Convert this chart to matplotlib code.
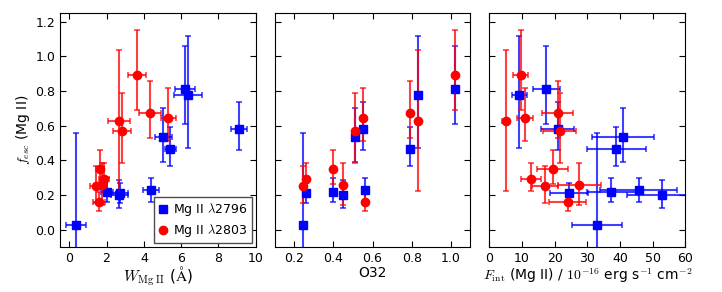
import matplotlib
matplotlib.use('Agg')
import matplotlib.pyplot as plt

plt.rcParams['font.family'] = ['DejaVu Sans']
plt.rcParams['mathtext.fontset'] = 'cm'
plt.rcParams['font.size'] = 9
plt.rcParams['xtick.direction'] = 'in'
plt.rcParams['ytick.direction'] = 'in'
plt.rcParams['xtick.top'] = True
plt.rcParams['ytick.right'] = True
plt.rcParams['xtick.major.size'] = 4
plt.rcParams['ytick.major.size'] = 4

# Mg II 2796 (blue squares)
b_fesc = [0.03, 0.21, 0.22, 0.20, 0.535, 0.58, 0.23, 0.465, 0.78, 0.815]
b_lo = [0.03 + 0.14, 0.21 - 0.155, 0.22 - 0.16, 0.20 - 0.125, 0.535 - 0.39,
        0.58 - 0.46, 0.23 - 0.16, 0.465 - 0.367, 0.78 - 0.47, 0.815 - 0.61]
b_hi = [0.56 - 0.03, 0.27 - 0.21, 0.297 - 0.22, 0.287 - 0.20, 0.70 - 0.535,
        0.735 - 0.58, 0.30 - 0.23, 0.59 - 0.465, 1.12 - 0.78, 1.06 - 0.815]
b_W = [0.37, 2.7, 2.02, 2.68, 5.05, 9.1, 4.39, 5.43, 6.35, 6.2]
b_Werr = [0.53, 0.45, 0.3, 0.45, 0.45, 0.45, 0.43, 0.3, 0.75, 0.55]
b_O32 = [0.245, 0.26, 0.40, 0.45, 0.51, 0.55, 0.56, 0.79, 0.83, 1.02]
b_F = [32.9, 24.4, 37.3, 52.9, 40.9, 20.9, 45.7, 38.9, 9.2, 17.4]
b_Ferr = [7.6, 5.7, 7.5, 10.8, 9.5, 5.0, 11.8, 9.1, 2.2, 4.1]

# Mg II 2803 (red circles)
r_fesc = [0.255, 0.29, 0.35, 0.26, 0.57, 0.645, 0.16, 0.675, 0.63, 0.895]
r_lo = [0.255 - 0.155, 0.29 - 0.225, 0.35 - 0.264, 0.26 - 0.14, 0.57 - 0.385,
        0.645 - 0.51, 0.16 - 0.11, 0.675 - 0.53, 0.63 - 0.225, 0.895 - 0.69]
r_hi = [0.365 - 0.255, 0.385 - 0.29, 0.46 - 0.35, 0.385 - 0.26, 0.79 - 0.57,
        0.82 - 0.645, 0.22 - 0.16, 0.86 - 0.675, 1.04 - 0.63, 1.15 - 0.895]
r_W = [1.44, 1.87, 1.66, 1.75, 2.85, 5.3, 1.6, 4.33, 2.68, 3.63]
r_Werr = [0.33, 0.27, 0.2, 0.25, 0.48, 0.4, 0.3, 0.6, 0.6, 0.5]
r_O32 = [0.245, 0.26, 0.40, 0.45, 0.51, 0.55, 0.56, 0.79, 0.83, 1.02]
r_F = [17.1, 12.7, 19.4, 27.6, 21.5, 10.9, 24.0, 20.9, 5.0, 9.6]
r_Ferr = [4.0, 3.0, 4.7, 6.6, 5.0, 2.5, 5.6, 4.8, 1.0, 2.3]

blue_e = (0.0, 0.0, 1.0, 0.75)
red_e = (1.0, 0.0, 0.0, 0.75)


def draw(ax, bx, bxerr, rx, rxerr):
    eb = ax.errorbar(bx, b_fesc, yerr=[b_lo, b_hi], xerr=bxerr, fmt='s', color='b',
                     ecolor=blue_e, mec='b', ms=6, elinewidth=1.5, capsize=2,
                     capthick=1.2)
    er = ax.errorbar(rx, r_fesc, yerr=[r_lo, r_hi], xerr=rxerr, fmt='o', color='r',
                     ecolor=red_e, mec='r', ms=6, elinewidth=1.5, capsize=2,
                     capthick=1.2)
    ax.set_ylim(-0.1, 1.25)
    ax.set_yticks([0.0, 0.2, 0.4, 0.6, 0.8, 1.0, 1.2])
    return eb, er


fig, axes = plt.subplots(1, 3, figsize=(7.22, 2.92), dpi=100, sharey=True)
fig.subplots_adjust(left=0.083, right=0.949, top=0.955, bottom=0.154, wspace=0.097)

ax1, ax2, ax3 = axes
eb, er = draw(ax1, b_W, b_Werr, r_W, r_Werr)
ax1.set_xlim(-0.5, 10)
ax1.set_xticks(range(0, 11, 2))
ax1.set_xlabel('$W_{\\rm Mg\\ II}$ ($\\rm\\AA$)', fontsize=11, labelpad=0)
ax1.set_ylabel('$f_{esc}$ (Mg II)', fontsize=10, labelpad=2)
leg = ax1.legend([eb[0], er[0]], ['Mg II $\\lambda$2796', 'Mg II $\\lambda$2803'],
                 loc='lower right', numpoints=1, fontsize=9, handlelength=0.8,
                 handletextpad=0.4, borderaxespad=0.3, labelspacing=0.3,
                 borderpad=0.35, fancybox=False, framealpha=1)
leg.get_frame().set_edgecolor('0.3')

draw(ax2, b_O32, None, r_O32, None)
ax2.set_xlim(0.1, 1.1)
ax2.set_xticks([0.2, 0.4, 0.6, 0.8, 1.0])
ax2.set_xlabel('O32', fontsize=10, labelpad=1)

draw(ax3, b_F, b_Ferr, r_F, r_Ferr)
ax3.set_xlim(0, 60)
ax3.set_xticks(range(0, 61, 10))
ax3.set_xlabel('$F_{\\rm int}$ (Mg II) / $10^{-16}$ erg s$^{-1}$ cm$^{-2}$',
               fontsize=10, labelpad=1)
ax3.tick_params(labelleft=False)
ax2.tick_params(labelleft=False)

fig.savefig('out.png', dpi=100)
